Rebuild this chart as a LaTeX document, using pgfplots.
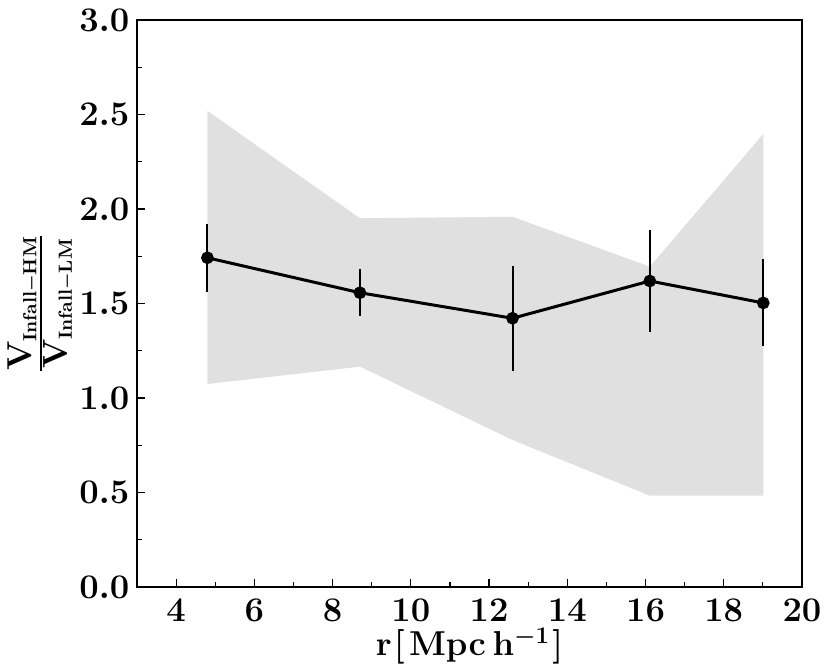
\documentclass[border=0pt]{standalone}
\usepackage{amsmath}
\usepackage{pgfplots}
\pgfplotsset{compat=1.18}
\definecolor{shade}{RGB}{224,224,224}

% ratio of infall velocities, with scatter band
\pgfplotstableread{
r     ratio  err
4.80  1.742  0.181
8.70  1.557  0.125
12.60 1.422  0.277
16.11 1.619  0.268
19.01 1.503  0.230
}\ratiodata

\newcommand{\sub}[1]{\hbox{\fontsize{9.5}{11}\selectfont\bfseries\boldmath #1}}

\begin{document}
\fontsize{17}{20}\selectfont\bfseries\boldmath
\begin{tikzpicture}
  \begin{axis}[
      scale only axis,
      width=332.5pt, height=283.5pt,
      xmin=3, xmax=20, ymin=0, ymax=3,
      xtick={4,6,...,20},
      ytick={0,0.5,...,3},
      minor x tick num=1, minor y tick num=1,
      tick pos=left, tick align=inside,
      major tick length=4pt, minor tick length=2.5pt,
      axis line style={line width=0.8pt},
      every tick/.style={black, line width=0.6pt},
      every tick label/.append style={font=\fontsize{17}{20}\selectfont\boldmath},
      yticklabel style={xshift=2pt,
        /pgf/number format/.cd, fixed, fixed zerofill, precision=1},
      xlabel={$\mathbf{r\mkern1mu[\mkern2mu Mpc\,h^{-1}\mkern1mu]}$},
      ylabel={$\frac{\textstyle\mathbf{V}_{\sub{Infall$-$HM}}}{\textstyle\mathbf{V}_{\sub{Infall$-$LM}}}$},
      xlabel style={font=\fontsize{17}{20}\selectfont\boldmath,
        at={(axis description cs:0.5,0)}, anchor=center, yshift=-29.5pt},
      ylabel style={font=\fontsize{19}{22}\selectfont\boldmath,
        at={(axis description cs:-0.1444,0.5)}, anchor=center},
    ]
    % band
    \addplot[fill=shade, draw=none] coordinates {
      (4.80,2.519) (8.70,1.951) (12.60,1.959) (16.11,1.695) (19.01,2.397)
      (19.01,0.483) (16.11,0.483) (12.60,0.778) (8.70,1.166) (4.80,1.074)
    } -- cycle;
    % mean ratio
    \addplot[black, line width=1.5pt, mark=*, mark size=2.4pt,
      error bars/.cd, y dir=both, y explicit, error mark=none,
      error bar style={line width=1pt}]
      table[x=r, y=ratio, y error=err] {\ratiodata};
  \end{axis}
  \pgfresetboundingbox
  \path (current axis.south west) ++(-68.5pt,-39pt);
  \path (current axis.north east) ++(14.5pt,10pt);
\end{tikzpicture}
\end{document}
